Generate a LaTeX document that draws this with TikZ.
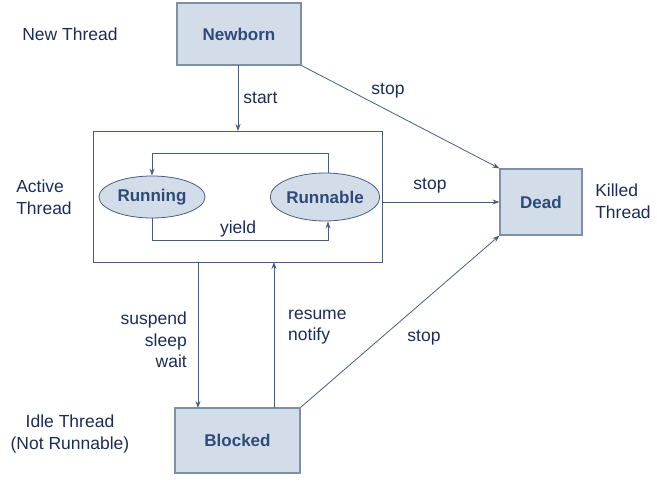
\documentclass[tikz,border=0pt]{standalone}
\usepackage{fontspec}
\setmainfont{Liberation Sans}
\usetikzlibrary{shapes.geometric,arrows.meta}
\definecolor{boxfill}{HTML}{D3DDEA}
\definecolor{boxline}{HTML}{7F8FA8}
\definecolor{linec}{HTML}{4A5D7E}
\definecolor{nodetext}{HTML}{2E4A78}
\definecolor{labtext}{HTML}{1C2C58}
\begin{document}
\begin{tikzpicture}[x=1pt,y=-1pt,
  state/.style={draw=boxline,fill=boxfill,line width=1.2pt,inner sep=0pt,font=\fontsize{17}{20}\selectfont\bfseries,text=nodetext},
  oval/.style={ellipse,draw=linec,fill=boxfill,line width=0.8pt,inner sep=0pt,font=\fontsize{17}{20}\selectfont\bfseries,text=nodetext},
  lab/.style={font=\fontsize{17.5}{21.5}\selectfont,text=labtext,inner sep=0pt},
  conn/.style={draw=linec,line width=0.8pt},
  arr/.style={conn,-{Stealth[length=7pt,width=5pt]}}]
\useasboundingbox (0,0) rectangle (657,481);
% nodes
\node[state,minimum width=124pt,minimum height=62pt] (newborn) at (239,34) {Newborn};
\node[draw=linec,line width=0.8pt,minimum width=289pt,minimum height=131pt,inner sep=0pt] (active) at (237.5,196.5) {};
\node[oval,minimum width=106pt,minimum height=42pt] (running) at (152,197) {Running};
\node[oval,minimum width=106pt,minimum height=48pt] (runnable) at (325,197) {Runnable};
\node[state,minimum width=82pt,minimum height=66pt] (dead) at (541,202) {Dead};
\node[state,minimum width=125pt,minimum height=65pt] (blocked) at (237.5,440.5) {Blocked};
% side labels
\node[lab] (newthread) at (70,34) {New Thread};
\node[lab,align=left] (activethread) at (44,197) {Active\\Thread};
\node[lab,align=left] (killed) at (623,201) {Killed\\Thread};
\node[lab,align=center] (idle) at (70,434) {Idle Thread\\(Not Runnable)};
% coordinates
\coordinate (s1) at (238,65);
\coordinate (s2) at (238,131);
\coordinate (tl) at (152,153);
\coordinate (tr) at (328,153);
\coordinate (bl) at (152,240);
\coordinate (br) at (328,240);
\coordinate (d1) at (198,262);
\coordinate (d2) at (198,408);
\coordinate (u1) at (274,408);
\coordinate (u2) at (274,262);
% connectors
\draw[arr] (s1) -- node[lab,right=5pt] (startlab) {start} (s2);
\draw[arr] (runnable.north -| tr) -- (tr) -- (tl) -- (running.north);
\draw[arr] (running.south) -- (bl) -- (br) -- (runnable.south -| br);
\node[lab] (yieldlab) at (238,229) {yield};
\draw[arr] (newborn.south east) -- (dead.north west);
\node[lab] (stop1) at (388,91) {stop};
\draw[arr] (active.east |- dead.west) -- (dead.west);
\node[lab] (stop2) at (430,186) {stop};
\draw[arr] (blocked.north east) -- (dead.south west);
\node[lab] (stop3) at (424,338) {stop};
\draw[arr] (d1) -- (d2);
\draw[arr] (u1) -- (u2);
\node[lab,align=right,anchor=east] (susp) at (187,340) {suspend\\sleep\\wait};
\node[lab,align=left,anchor=west] (resume) at (288,327) {resume\\notify};
\end{tikzpicture}
\end{document}
